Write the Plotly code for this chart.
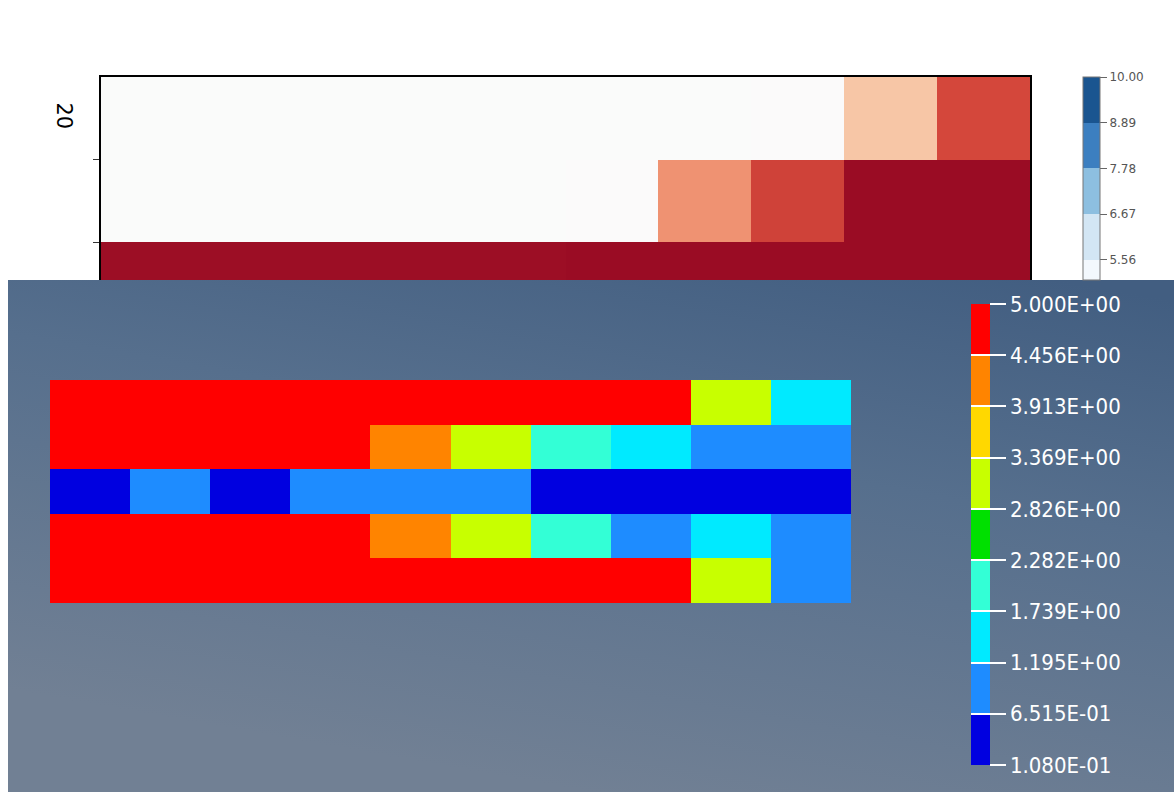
import base64
import plotly.graph_objects as go

# ---------------- data ----------------
# top (matplotlib-style) heatmap, rows top->bottom, 10 columns
top_cols = list(range(10))
top_row0 = [0.2, 0.2, 0.2, 0.2, 0.2, 0.2, 0.2, 0.3, 3.0, 7.0]
top_row1 = [0.2, 0.2, 0.2, 0.2, 0.2, 0.3, 4.5, 7.2, 9.5, 9.5]
top_row2 = [9.4, 9.4, 9.4, 9.4, 9.4, 9.5, 9.5, 9.5, 9.5, 9.5]
top_cbar_ticks = [10.00, 8.89, 7.78, 6.67, 5.56]
top_cbar_labels = ["10.00", "8.89", "7.78", "6.67", "5.56"]
side_label = "20"

# bottom (FE contour-style) heatmap, rows top->bottom
bot_cols = list(range(10))
bot_row0 = [4.7, 4.7, 4.7, 4.7, 4.7, 4.7, 4.7, 4.7, 3.1, 1.5]
bot_row1 = [4.7, 4.7, 4.7, 4.7, 4.2, 3.1, 2.0, 1.5, 0.9, 0.9]
bot_row2 = [0.4, 0.9, 0.4, 0.9, 0.9, 0.9, 0.4, 0.4, 0.4, 0.4]
bot_row3 = [4.7, 4.7, 4.7, 4.7, 4.2, 3.1, 2.0, 0.9, 1.5, 0.9]
bot_row4 = [4.7, 4.7, 4.7, 4.7, 4.7, 4.7, 4.7, 4.7, 3.1, 0.9]
bot_levels = [0.108, 0.6515, 1.195, 1.739, 2.282, 2.826, 3.369, 3.913, 4.456, 5.000]
bot_level_labels = ["1.080E-01", "6.515E-01", "1.195E+00", "1.739E+00", "2.282E+00",
                    "2.826E+00", "3.369E+00", "3.913E+00", "4.456E+00", "5.000E+00"]

# ---------------- styling ----------------
W, H = 1174, 792
def px_x(x): return x / W
def px_y(y): return 1 - y / H

jet_band_colors = ["#0000e0", "#1e8cff", "#00eaff", "#33ffd6", "#00e000",
                   "#c8ff00", "#ffd800", "#ff8400", "#ff0000"]
nb = len(jet_band_colors)
jet_scale = []
for i, c in enumerate(jet_band_colors):
    jet_scale.append([i / nb, c])
    jet_scale.append([(i + 1) / nb, c])

reds_scale = [[0.0, "#fafbfb"], [0.05, "#fbfaf9"], [0.3, "#f7c6a6"],
              [0.45, "#ef9272"], [0.7, "#d4473b"], [0.95, "#9a0c24"], [1.0, "#8a0a20"]]

# visible part of the Blues colorbar (from cmin_vis up to 10)
cmin_vis = 5.07
blues_edges = [cmin_vis, 5.56, 6.67, 7.78, 8.89, 10.0]
blues_bands = ["#f3f8fd", "#d3e6f4", "#8dbfe0", "#3c7fc0", "#1a5590"]
blues_scale = []
for i, c in enumerate(blues_bands):
    lo = (blues_edges[i] - cmin_vis) / (10 - cmin_vis)
    hi = (blues_edges[i + 1] - cmin_vis) / (10 - cmin_vis)
    blues_scale.append([lo, c])
    blues_scale.append([hi, c])

fig = go.Figure()

# top heatmap
fig.add_trace(go.Heatmap(
    z=[top_row0, top_row1, top_row2], x=top_cols, y=[0, 1, 2],
    colorscale=reds_scale, zmin=0, zmax=10, showscale=False,
    xaxis="x", yaxis="y", hoverinfo="skip"))

# top colorbar
fig.add_trace(go.Scatter(
    x=[None], y=[None], mode="markers", xaxis="x", yaxis="y", showlegend=False,
    marker=dict(color=[cmin_vis, 10], cmin=cmin_vis, cmax=10, colorscale=blues_scale,
                showscale=True,
                colorbar=dict(
                    x=px_x(1083), xanchor="left", xpad=0,
                    y=px_y(77), yanchor="top", ypad=0,
                    lenmode="pixels", len=280 - 77,
                    thickness=17, outlinewidth=1, outlinecolor="#777",
                    tickvals=top_cbar_ticks, ticktext=top_cbar_labels,
                    ticks="outside", ticklen=7, tickcolor="#666",
                    tickfont=dict(family="DejaVu Sans", size=12, color="#555")))))

cbar_common = dict(x=px_x(971), xanchor="left", xpad=0,
                   y=px_y(304), yanchor="top", ypad=0,
                   lenmode="pixels", len=765 - 304, thickness=19, outlinewidth=0,
                   tickvals=bot_levels, tickwidth=2, tickcolor="white")

# bottom heatmap with discrete jet colorbar
fig.add_trace(go.Heatmap(
    z=[bot_row0, bot_row1, bot_row2, bot_row3, bot_row4], x=bot_cols, y=[0, 1, 2, 3, 4],
    colorscale=jet_scale, zmin=bot_levels[0], zmax=bot_levels[-1],
    xaxis="x2", yaxis="y2", hoverinfo="skip",
    colorbar=dict(**cbar_common, ticktext=bot_level_labels, ticks="outside", ticklen=16,
                  tickfont=dict(family="DejaVu Sans Condensed, Liberation Sans",
                                size=22, color="white"))))

# same colorbar again, only to draw tick lines across the bar
fig.add_trace(go.Scatter(
    x=[None], y=[None], mode="markers", xaxis="x2", yaxis="y2", showlegend=False,
    marker=dict(color=[bot_levels[0], bot_levels[-1]], cmin=bot_levels[0], cmax=bot_levels[-1],
                colorscale=jet_scale, showscale=True,
                colorbar=dict(**cbar_common, ticks="inside", ticklen=19,
                              showticklabels=False))))

# gradient background for the lower panel
svg = ("<svg xmlns='http://www.w3.org/2000/svg' width='1166' height='512' preserveAspectRatio='none'>"
       "<defs><linearGradient id='g' x1='0.9' y1='0' x2='0.5' y2='1'>"
       "<stop offset='0' stop-color='#425e81'/><stop offset='0.4' stop-color='#566f8d'/>"
       "<stop offset='1' stop-color='#718094'/></linearGradient></defs>"
       "<rect width='1166' height='512' fill='url(#g)'/></svg>")
src = "data:image/svg+xml;base64," + base64.b64encode(svg.encode()).decode()

fig.update_layout(
    width=W, height=H, margin=dict(l=0, r=0, t=0, b=0),
    paper_bgcolor="white", plot_bgcolor="rgba(0,0,0,0)", showlegend=False,
    images=[dict(source=src, xref="paper", yref="paper", x=px_x(8), y=px_y(280),
                 sizex=1 - px_x(8), sizey=(H - 280) / H, xanchor="left", yanchor="top",
                 sizing="stretch", layer="below")],
    xaxis=dict(domain=[px_x(101), px_x(1030)], range=[-0.5, 9.5], side="top",
               showline=True, linecolor="black", linewidth=2, ticks="",
               showticklabels=False, showgrid=False, zeroline=False),
    yaxis=dict(domain=[px_y(280), px_y(77)],
               range=[-0.5 + (280 - 77) / 82.5, -0.5],
               showline=True, mirror=True, linecolor="black", linewidth=2,
               tickvals=[0.5, 1.5], ticks="outside", ticklen=6, tickcolor="#333",
               showticklabels=False, showgrid=False, zeroline=False),
    xaxis2=dict(domain=[px_x(50), px_x(851)], range=[-0.5, 9.5], visible=False),
    yaxis2=dict(domain=[px_y(603), px_y(380)], range=[4.5, -0.5], visible=False),
    annotations=[dict(text=side_label, xref="paper", yref="paper", x=px_x(50), y=px_y(100),
                      showarrow=False, textangle=90,
                      font=dict(family="DejaVu Sans", size=21, color="black"))],
)

fig.write_html("out.html")
